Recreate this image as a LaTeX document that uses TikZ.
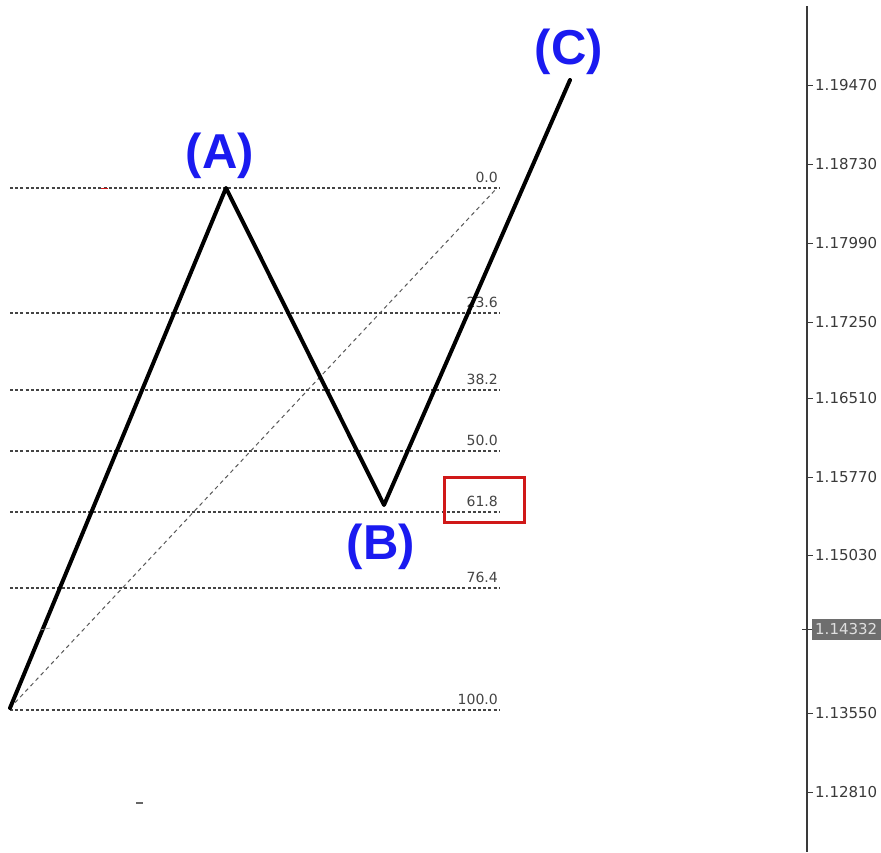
\documentclass[tikz,border=0pt]{standalone}
\usepackage{fontspec}
\newfontfamily\labfont{Liberation Sans}
\newfontfamily\axfont{DejaVu Sans}
\definecolor{waveblue}{HTML}{1A1AF0}
\definecolor{fibgray}{HTML}{444444}
\definecolor{axgray}{HTML}{3A3A3A}
\definecolor{boxgray}{HTML}{6E6E6E}
\definecolor{markred}{HTML}{D01818}
\begin{document}
\begin{tikzpicture}[x=1pt,y=-1pt,
  wave/.style={line width=4pt,line cap=round,line join=round,black},
  fibline/.style={fibgray,line width=1.2pt,dash pattern=on 3pt off 2.2pt},
  diag/.style={black!65,line width=1pt,dash pattern=on 4pt off 3.5pt},
  fiblab/.style={anchor=base east,inner sep=0pt,text=fibgray,font=\axfont\fontsize{14}{15}\selectfont},
  axlab/.style={anchor=west,inner sep=0pt,text=axgray,font=\axfont\fontsize{15}{16}\selectfont},
  wavelab/.style={inner sep=0pt,text=waveblue,font=\labfont\bfseries\fontsize{49}{51}\selectfont},
  tick/.style={axgray,line width=1pt}]
\useasboundingbox[fill=white] (0,0) rectangle (881,852);
% wave points
\coordinate (P0) at (10,708);
\coordinate (PA) at (226,188);
\coordinate (PB) at (384,505);
\coordinate (PC) at (570,80);
\coordinate (D1) at (497,188);
% fib levels
\foreach \nm/\yy/\tx in {L0/188/0.0, L1/313/23.6, L2/390/38.2, L3/451/50.0, L4/512/61.8, L5/588/76.4, L6/710/100.0}{
  \coordinate (\nm a) at (10,\yy);
  \coordinate (\nm b) at (500,\yy);
  \draw[fibline] (\nm a) -- (\nm b);
  \node[fiblab] (\nm t) at (498,\yy-6) {\tx};
}
% diagonal
\draw[diag] (P0) -- (D1);
% red box
\node[draw=markred,line width=3pt,minimum width=80pt,minimum height=45pt,inner sep=0pt] (rbox) at (484,500) {};
% wave
\draw[wave] (P0) -- (PA) -- (PB) -- (PC);
% wave labels
\node[wavelab] (labA) at (220,156) {(A)};
\node[wavelab] (labB) at (381,547) {(B)};
\node[wavelab] (labC) at (569,52) {(C)};
% small marks
\draw[markred,line width=1pt] (101,188) -- (108,188);
\draw[black!60,line width=1.2pt] (136,803) -- (143,803);
\draw[black!40,line width=0.6pt] (40,630) -- (50,628);
% axis
\coordinate (AxT) at (807,6);
\coordinate (AxB) at (807,852);
\draw[axgray,line width=1.6pt] (AxT) -- (AxB);
\foreach \nm/\yy/\tx in {T1/85/1.19470, T2/164/1.18730, T3/243/1.17990, T4/322/1.17250, T5/398/1.16510, T6/477/1.15770, T7/555/1.15030, T8/713/1.13550, T9/792/1.12810}{
  \coordinate (\nm a) at (807,\yy);
  \coordinate (\nm b) at (813,\yy);
  \draw[tick] (\nm a) -- (\nm b);
  \node[axlab] (\nm t) at (815,\yy) {\tx};
}
\fill[boxgray] (812,619) rectangle (881,640);
\coordinate (Cur1) at (802,629);
\coordinate (Cur2) at (812,629);
\draw[tick] (Cur1) -- (Cur2);
\node[axlab,text=black!12] (cur) at (815,629.5) {1.14332};
\end{tikzpicture}
\end{document}
